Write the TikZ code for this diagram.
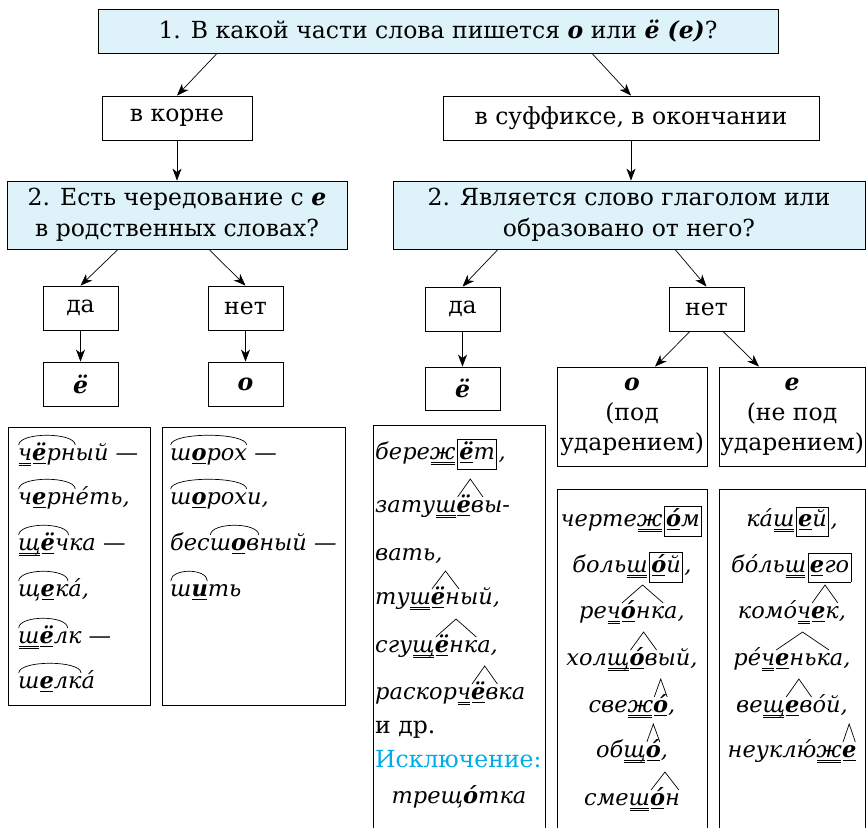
\documentclass[tikz,border=0pt]{standalone}
\usepackage{fontspec}
\setmainfont{DejaVu Serif}
\usetikzlibrary{arrows.meta}

\definecolor{qblue}{RGB}{222,242,250}
\definecolor{exccyan}{RGB}{0,172,232}

\newlength\wordw
% underlines: double under the consonant, single under the vowel
\newcommand\sglu[1]{\begingroup\setbox0\hbox{#1}\rlap{\kern0.8pt\vrule width\dimexpr\wd0-1.6pt\relax height -2.6pt depth 3.3pt}\box0\endgroup}
\newcommand\dblu[1]{\begingroup\setbox0\hbox{#1}\rlap{\kern0.8pt\vrule width\dimexpr\wd0-1.6pt\relax height -2.6pt depth 3.3pt}\rlap{\kern0.8pt\vrule width\dimexpr\wd0-1.6pt\relax height -5.2pt depth 5.9pt}\box0\endgroup}
\newcommand\vw[1]{\sglu{\textbf{#1}}}
% root arc, suffix roof, ending box
\newcommand\rootarc[1]{\begingroup\setbox0\hbox{#1}\wordw=\wd0\rlap{\tikz[overlay,baseline=0pt]\draw[line width=0.7pt] (0.5pt,15pt) .. controls (1pt,28pt) and (\wordw-1pt,28pt) .. (\wordw-0.5pt,15pt);}\box0\endgroup}
\newcommand\sfxroof[1]{\begingroup\setbox0\hbox{#1}\wordw=\wd0\rlap{\tikz[overlay,baseline=0pt]\draw[line width=0.7pt] (1pt,15pt) -- (0.5*\wordw,33pt) -- (\wordw-1pt,15pt);}\box0\endgroup}
\newcommand\okbox[1]{\kern1.5pt{\setlength\fboxsep{1.5pt}\setlength\fboxrule{0.7pt}\fbox{\rule[-8pt]{0pt}{25pt}#1}}\kern1.5pt}

\begin{document}
\begin{tikzpicture}[x=1pt, y=-1pt, font=\fontsize{23.5}{31}\selectfont,
    qbox/.style={draw, fill=qblue, line width=0.8pt, inner sep=0pt, align=center},
    abox/.style={draw, line width=0.8pt, inner sep=0pt, align=center},
    arr/.style={-{Stealth[length=12pt,width=9pt,inset=3.5pt]}, line width=0.7pt},
    ex/.style={anchor=base west, inner sep=0pt, font=\fontsize{22.5}{26}\selectfont\itshape},
    exc/.style={ex, anchor=base}]
    \useasboundingbox (0,0) rectangle (866,828);

    % questions and answers
    \node[qbox, minimum width=680pt, minimum height=44pt] (Q1) at (438,31)
        {1. В какой части слова пишется \textbf{\textit{о}} или \textbf{\textit{ё (е)}}?};
    \node[abox, minimum width=150pt, minimum height=44pt] (Root) at (177,118) {в корне};
    \node[abox, minimum width=376pt, minimum height=44pt] (Sfx) at (631,118) {в суффиксе, в окончании};

    \node[qbox, minimum width=340pt, minimum height=68pt] (QRoot) at (177,215)
        {2. Есть чередование с \textbf{\textit{е}}\\в родственных словах?};
    \node[qbox, minimum width=472pt, minimum height=68pt] (QSfx) at (629,215)
        {2. Является слово глаголом или\\образовано от него?};

    \node[abox, minimum width=75pt, minimum height=44pt] (YesRoot) at (80.5,308) {да};
    \node[abox, minimum width=75pt, minimum height=44pt] (NoRoot) at (245.5,308) {нет};
    \node[abox, minimum width=75pt, minimum height=44pt] (YoRoot) at (80.5,384) {\textbf{\textit{ё}}};
    \node[abox, minimum width=75pt, minimum height=44pt] (ORoot) at (245.5,384) {\textbf{\textit{о}}};

    \node[abox, minimum width=75pt, minimum height=44pt] (YesSfx) at (462.5,309) {да};
    \node[abox, minimum width=75pt, minimum height=44pt] (NoSfx) at (706.5,309) {нет};
    \node[abox, minimum width=75pt, minimum height=43pt] (YoSfx) at (462.5,388.5) {\textbf{\textit{ё}}};
    \node[abox, minimum width=150pt, minimum height=99pt, font=\fontsize{23.5}{30}\selectfont] (OSfx) at (632,416.5)
        {\textbf{\textit{о}}\\(под\\ударением)};
    \node[abox, minimum width=146pt, minimum height=99pt, font=\fontsize{23.5}{30}\selectfont] (ESfx) at (792,416.5)
        {\textbf{\textit{е}}\\(не под\\ударением)};

    % arrows
    \draw[arr] ([xshift=-221pt]Q1.south) -- (Root.north);
    \draw[arr] ([xshift=154pt]Q1.south) -- (Sfx.north);
    \draw[arr] (Root.south) -- (QRoot.north);
    \draw[arr] (Sfx.south) -- (Sfx.south |- QSfx.north);
    \draw[arr] ([xshift=-59pt]QRoot.south) -- (YesRoot.north);
    \draw[arr] ([xshift=32pt]QRoot.south) -- (NoRoot.north);
    \draw[arr] (YesRoot) -- (YoRoot);
    \draw[arr] (NoRoot) -- (ORoot);
    \draw[arr] ([xshift=-131pt]QSfx.south) -- (YesSfx.north);
    \draw[arr] ([xshift=46pt]QSfx.south) -- (NoSfx.north);
    \draw[arr] (YesSfx) -- (YoSfx);
    \draw[arr] ([xshift=-16.5pt]NoSfx.south) -- ([xshift=23pt]OSfx.north);
    \draw[arr] ([xshift=16.5pt]NoSfx.south) -- ([xshift=-33pt]ESfx.north);

    % example frames
    \draw[line width=0.8pt] (8,427) rectangle (150,705);
    \draw[line width=0.8pt] (162,427) rectangle (345,705);
    \draw[line width=0.8pt] (373,828) -- (373,425) -- (545,425) -- (545,828);
    \draw[line width=0.8pt] (557,828) -- (557,489) -- (707,489) -- (707,828);
    \draw[line width=0.8pt] (719,828) -- (719,489) -- (865.5,489) -- (865.5,828);

    % examples: root, yes
    \node[ex] (ExA1) at (18,460) {\rootarc{\dblu{ч}\vw{ё}рн}ый —};
    \node[ex] (ExA2) at (18,504) {\rootarc{ч\vw{е}рн}éть,};
    \node[ex] (ExA3) at (18,550) {\rootarc{\dblu{щ}\vw{ё}ч}ка —};
    \node[ex] (ExA4) at (18,596) {\rootarc{щ\vw{е}к}á,};
    \node[ex] (ExA5) at (18,643) {\rootarc{\dblu{ш}\vw{ё}л}к —};
    \node[ex] (ExA6) at (18,688) {\rootarc{ш\vw{е}лк}á};

    % examples: root, no
    \node[ex] (ExB1) at (170,460) {\rootarc{ш\vw{о}рох} —};
    \node[ex] (ExB2) at (170,504) {\rootarc{ш\vw{о}рох}и,};
    \node[ex] (ExB3) at (170,550) {бес\rootarc{ш\vw{о}в}ный —};
    \node[ex] (ExB4) at (170,596) {\rootarc{ш\vw{и}}ть};

    % examples: suffix, verb
    \node[ex] (ExC1) at (375,459) {бере\dblu{ж}\okbox{\vw{ё}т},};
    \node[ex] (ExC2) at (375,512) {зату\dblu{ш}\sfxroof{\vw{ё}в}ы-};
    \node[ex] (ExC3) at (375,560) {вать,};
    \node[ex] (ExC4) at (375,604) {ту\dblu{ш}\sfxroof{\vw{ё}н}ый,};
    \node[ex] (ExC5) at (375,652) {сгу\dblu{щ}\sfxroof{\vw{ё}нк}а,};
    \node[ex] (ExC6) at (375,699) {раскор\dblu{ч}\sfxroof{\vw{ё}в}ка};
    \node[ex, font=\fontsize{23.5}{26}\selectfont] (ExC7) at (375,733) {и др.};
    \node[ex, font=\fontsize{23.5}{26}\selectfont, text=exccyan] (ExC8) at (375,767) {Исключение:};
    \node[exc] (ExC9) at (459,803) {трещ\textbf{ó}тка};

    % examples: suffix, stressed
    \node[exc] (ExD1) at (632,526) {черте\dblu{ж}\okbox{\vw{ó}м}};
    \node[exc] (ExD2) at (632,572) {боль\dblu{ш}\okbox{\vw{ó}й},};
    \node[exc] (ExD3) at (632,618) {ре\dblu{ч}\sfxroof{\vw{ó}нк}а,};
    \node[exc] (ExD4) at (632,665) {хол\dblu{щ}\sfxroof{\vw{ó}в}ый,};
    \node[exc] (ExD5) at (632,712) {све\dblu{ж}\sfxroof{\vw{ó}},};
    \node[exc] (ExD6) at (632,757) {об\dblu{щ}\sfxroof{\vw{ó}},};
    \node[exc] (ExD7) at (632,805) {сме\dblu{ш}\sfxroof{\vw{ó}н}};

    % examples: suffix, unstressed
    \node[exc] (ExE1) at (792,526) {кá\dblu{ш}\okbox{\vw{е}й},};
    \node[exc] (ExE2) at (792,572) {бóль\dblu{ш}\okbox{\vw{е}го}};
    \node[exc] (ExE3) at (792,618) {комó\dblu{ч}\sfxroof{\vw{е}к},};
    \node[exc] (ExE4) at (792,665) {рé\dblu{ч}\sfxroof{\vw{е}ньк}а,};
    \node[exc] (ExE5) at (792,712) {ве\dblu{щ}\sfxroof{\vw{е}в}óй,};
    \node[exc] (ExE6) at (792,757) {неуклю́\dblu{ж}\sfxroof{\vw{е}}};
\end{tikzpicture}
\end{document}
